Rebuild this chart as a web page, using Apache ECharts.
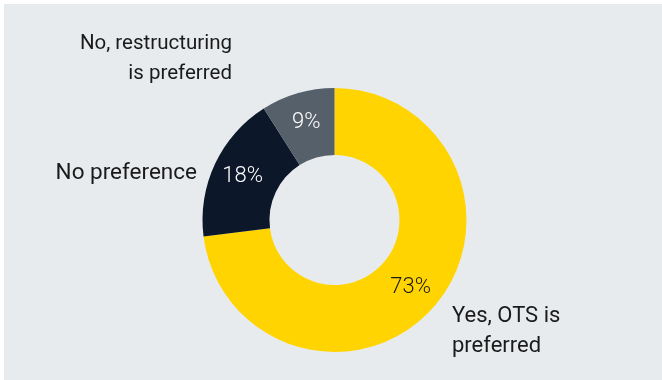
<!DOCTYPE html>
<html>
<head>
<meta charset="utf-8">
<script src="https://cdn.jsdelivr.net/npm/echarts@6/dist/echarts.min.js"></script>
<style>
  html, body { margin: 0; padding: 0; background: #ffffff; }
  #chart { position: absolute; left: 4px; top: 4px; width: 658px; height: 376px; }
</style>
</head>
<body>
<div id="chart"></div>
<script>
// Survey answers and their shares (%)
const categories = ['Yes, OTS is\npreferred', 'No preference', 'No, restructuring\nis preferred'];
const shares = [73, 18, 9];
const sliceColors = ['#ffd400', '#0c1729', '#56606b'];
const valueLabelColors = ['#1a1a1a', '#ffffff', '#ffffff'];

// Where each category name sits beside the ring, and its type size
const namePlacement = [
  { x: 448, y: 327, align: 'left', size: 22 },
  { x: 193, y: 169, align: 'right', size: 22.5 },
  { x: 228, y: 55, align: 'right', size: 20.5 }
];

const chart = echarts.init(document.getElementById('chart'));

const ringData = categories.map((name, i) => ({
  name: name,
  value: shares[i],
  itemStyle: { color: sliceColors[i] },
  label: { color: valueLabelColors[i] }
}));

const nameData = categories.map((name, i) => ({
  name: name,
  value: shares[i],
  label: { fontSize: namePlacement[i].size }
}));

const font = 'Roboto, "Noto Sans", sans-serif';

chart.setOption({
  backgroundColor: '#e8ebee',
  animation: false,
  series: [
    {
      type: 'pie',
      center: [330.5, 216],
      radius: [65, 132],
      startAngle: 90,
      clockwise: true,
      silent: true,
      data: ringData,
      label: {
        show: true,
        position: 'inside',
        formatter: '{c}%',
        fontFamily: font,
        fontSize: 22,
        fontWeight: 300
      },
      labelLine: { show: false }
    },
    {
      type: 'pie',
      center: [330.5, 216],
      radius: [65, 132],
      startAngle: 90,
      clockwise: true,
      silent: true,
      data: nameData,
      itemStyle: { color: 'rgba(0,0,0,0)' },
      label: {
        show: true,
        position: 'outside',
        formatter: '{b}',
        color: '#1a1a1a',
        fontFamily: font,
        lineHeight: 30
      },
      labelLine: { show: false },
      labelLayout: function (params) {
        const p = namePlacement[params.dataIndex];
        return { x: p.x, y: p.y, align: p.align, verticalAlign: 'middle' };
      }
    }
  ]
});
</script>
</body>
</html>
